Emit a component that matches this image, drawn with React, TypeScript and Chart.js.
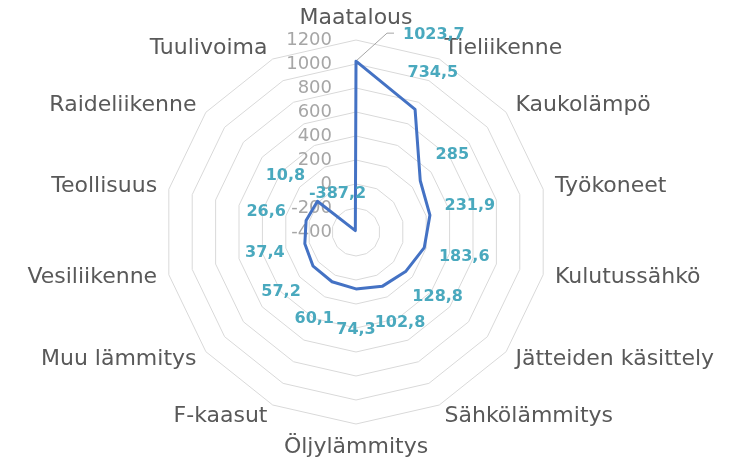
import { useEffect, useRef } from 'react';
import { Chart, registerables } from 'chart.js';

Chart.register(...registerables);

const categories = [
  'Maatalous',
  'Tieliikenne',
  'Kaukolämpö',
  'Työkoneet',
  'Kulutussähkö',
  'Jätteiden käsittely',
  'Sähkölämmitys',
  'Öljylämmitys',
  'F-kaasut',
  'Muu lämmitys',
  'Vesiliikenne',
  'Teollisuus',
  'Raideliikenne',
  'Tuulivoima',
];
const emissions = [1023.7, 734.5, 285, 231.9, 183.6, 128.8, 102.8, 74.3, 60.1, 57.2, 37.4, 26.6, 10.8, -387.2];
const scaleMin = -400;
const scaleMax = 1200;
const scaleStep = 200;

const FONT = '"DejaVu Sans", Verdana, sans-serif';
const fmt = (v: number) => String(v).replace('.', ',');

const excelLabels = {
  id: 'excelLabels',
  beforeDatasetsDraw(chart: any) {
    const scale = chart.scales.r;
    const ctx = chart.ctx;
    ctx.save();
    ctx.font = `18px ${FONT}`;
    ctx.fillStyle = '#a6a6a6';
    ctx.textAlign = 'right';
    ctx.textBaseline = 'middle';
    scale.ticks.forEach((t: any) => {
      const d = scale.getDistanceFromCenterForValue(t.value);
      ctx.fillText(String(t.value), scale.xCenter - 24, scale.yCenter - d);
    });
    ctx.restore();
  },
  afterDatasetsDraw(chart: any) {
    const scale = chart.scales.r;
    const ctx = chart.ctx;
    const R = scale.drawingArea;
    ctx.save();
    // category labels
    ctx.font = `22px ${FONT}`;
    ctx.fillStyle = '#595959';
    ctx.textBaseline = 'middle';
    categories.forEach((c, i) => {
      const a = scale.getIndexAngle(i);
      const p = scale.getPointPosition(i, R + 12);
      const s = Math.sin(a);
      if (Math.abs(s) < 1e-6) {
        ctx.textAlign = 'center';
        ctx.fillText(c, p.x, p.y + (Math.cos(a) > 0 ? -10 : 11));
      } else {
        ctx.textAlign = s > 0 ? 'left' : 'right';
        ctx.fillText(c, p.x, p.y);
      }
    });
    // data labels
    const meta = chart.getDatasetMeta(0);
    ctx.font = `bold 16px ${FONT}`;
    ctx.fillStyle = '#4aa9be';
    emissions.forEach((v, i) => {
      const pt = meta.data[i];
      if (i === 0) {
        const lx = pt.x + 47;
        const ly = pt.y - 26;
        ctx.strokeStyle = '#a6a6a6';
        ctx.lineWidth = 1;
        ctx.beginPath();
        ctx.moveTo(pt.x + 1, pt.y - 1);
        ctx.lineTo(pt.x + 31, ly - 2);
        ctx.lineTo(pt.x + 38, ly - 2);
        ctx.stroke();
        ctx.textAlign = 'left';
        ctx.fillText(fmt(v), lx, ly);
      } else {
        const d = scale.getDistanceFromCenterForValue(v);
        const p = scale.getPointPosition(i, d + 41);
        ctx.textAlign = 'center';
        ctx.fillText(fmt(v), p.x, p.y);
      }
    });
    ctx.restore();
  },
};

export default function App() {
  const ref = useRef<HTMLCanvasElement | null>(null);
  useEffect(() => {
    if (!ref.current) return;
    const chart = new Chart(ref.current, {
      type: 'radar',
      data: {
        labels: categories,
        datasets: [
          {
            data: emissions,
            borderColor: '#4472c4',
            borderWidth: 3,
            pointRadius: 0,
            pointHoverRadius: 0,
            fill: false,
            tension: 0,
            borderJoinStyle: 'round',
          },
        ],
      },
      options: {
        animation: false,
        responsive: true,
        maintainAspectRatio: false,
        layout: { padding: { left: 164, right: 196, top: 40, bottom: 41 } },
        plugins: { legend: { display: false }, tooltip: { enabled: false } },
        scales: {
          r: {
            min: scaleMin,
            max: scaleMax,
            ticks: { stepSize: scaleStep, display: false },
            grid: { color: '#d9d9d9', lineWidth: 1 },
            angleLines: { display: false },
            pointLabels: { display: false },
          },
        },
      },
      plugins: [excelLabels],
    } as any);
    return () => chart.destroy();
  }, []);
  return (
    <div style={{ position: 'fixed', left: 0, top: 0, width: 744, height: 465, background: '#fff' }}>
      <canvas ref={ref} />
    </div>
  );
}
